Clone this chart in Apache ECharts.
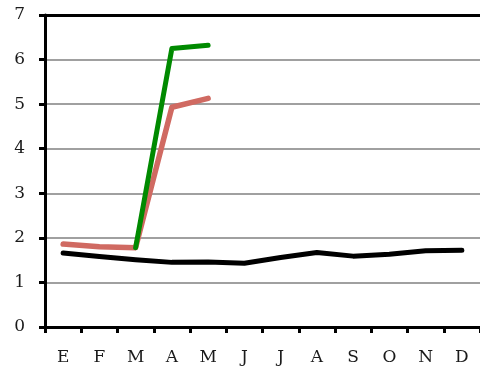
<!DOCTYPE html>
<html>
<head>
<meta charset="utf-8">
<script src="https://cdn.jsdelivr.net/npm/echarts@6/dist/echarts.min.js"></script>
<style>
  html, body { margin: 0; padding: 0; background: #fff; }
  #chart { width: 480px; height: 367px; }
</style>
</head>
<body>
<div id="chart"></div>
<script>
// Month initials (Spanish) and monthly values for each series
const months = ['E', 'F', 'M', 'A', 'M', 'J', 'J', 'A', 'S', 'O', 'N', 'D'];
const blackSeries = [1.66, 1.58, 1.51, 1.45, 1.46, 1.43, 1.56, 1.67, 1.59, 1.63, 1.71, 1.72];
const redSeries = [1.86, 1.80, 1.78, 4.93, 5.13, null, null, null, null, null, null, null];
const greenSeries = [null, null, 1.78, 6.25, 6.32, null, null, null, null, null, null, null];
const yMin = 0, yMax = 7, yStep = 1;

const chart = echarts.init(document.getElementById('chart'), null, { renderer: 'canvas' });
const labelFont = { fontFamily: 'DejaVu Serif', fontSize: 17, color: '#1a1a1a' };

function lineSeries(data, color, width) {
  return {
    type: 'line',
    data: data,
    xAxisIndex: 0,
    showSymbol: false,
    connectNulls: false,
    animation: false,
    lineStyle: { color: color, width: width, cap: 'round', join: 'round' },
    itemStyle: { color: color }
  };
}

chart.setOption({
  animation: false,
  grid: { left: 45, top: 15, width: 444, height: 312 },
  xAxis: [
    {
      type: 'category',
      data: months,
      boundaryGap: true,
      axisLine: { lineStyle: { color: '#000', width: 3 } },
      axisTick: { show: true, length: 6, lineStyle: { color: '#000', width: 3 } },
      axisLabel: Object.assign({ margin: 22 }, labelFont),
      splitLine: { show: false }
    },
    {
      // plain frame line along the top of the plot
      type: 'category',
      position: 'top',
      data: months,
      axisLine: { show: true, lineStyle: { color: '#000', width: 3 } },
      axisTick: { show: false },
      axisLabel: { show: false },
      splitLine: { show: false }
    }
  ],
  yAxis: {
    type: 'value',
    min: yMin, max: yMax, interval: yStep,
    axisLine: { show: true, lineStyle: { color: '#000', width: 3 } },
    axisTick: { show: true, length: 6, lineStyle: { color: '#000', width: 3 } },
    axisLabel: Object.assign({ margin: 20 }, labelFont),
    splitLine: { show: true, lineStyle: { color: '#a0a0a0', width: 2 } }
  },
  series: [
    lineSeries(blackSeries, '#000000', 5),
    lineSeries(redSeries, '#d06a62', 5.5),
    lineSeries(greenSeries, '#008a00', 5)
  ]
});
</script>
</body>
</html>
